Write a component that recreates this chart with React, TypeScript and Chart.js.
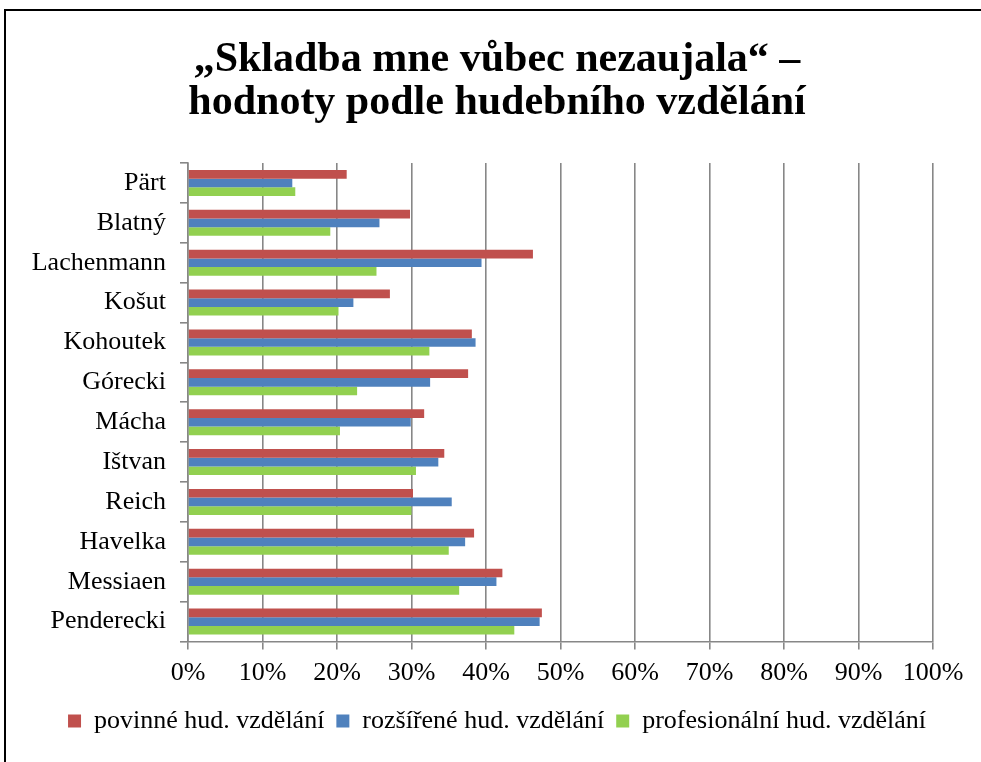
import React, { useEffect, useRef } from "react";
import { Chart, registerables } from "chart.js";

Chart.register(...registerables);

const categories = [
  "Pärt",
  "Blatný",
  "Lachenmann",
  "Košut",
  "Kohoutek",
  "Górecki",
  "Mácha",
  "Ištvan",
  "Reich",
  "Havelka",
  "Messiaen",
  "Penderecki",
];

const povinne = [21.3, 29.8, 46.3, 27.1, 38.1, 37.6, 31.7, 34.4, 30.2, 38.4, 42.2, 47.5];
const rozsirene = [14.0, 25.7, 39.4, 22.2, 38.6, 32.5, 29.9, 33.6, 35.4, 37.2, 41.4, 47.2];
const profesionalni = [14.4, 19.1, 25.3, 20.2, 32.4, 22.7, 20.4, 30.6, 30.0, 35.0, 36.4, 43.8];

const seriesNames = [
  "povinné hud. vzdělání",
  "rozšířené hud. vzdělání",
  "profesionální hud. vzdělání",
];

const titleLines = ["„Skladba mne vůbec nezaujala“ –", "hodnoty podle hudebního vzdělání"];

const xTicks = [0, 10, 20, 30, 40, 50, 60, 70, 80, 90, 100];

export default function App() {
  const canvasRef = useRef<HTMLCanvasElement | null>(null);

  useEffect(() => {
    if (!canvasRef.current) return;
    const serif = "'Liberation Serif', 'Times New Roman', serif";
    const grid = "#878787";
    const chart = new Chart(canvasRef.current, {
      type: "bar",
      data: {
        labels: categories,
        datasets: [
          { label: seriesNames[0], data: povinne, backgroundColor: "#C0504D", borderWidth: 0 },
          { label: seriesNames[1], data: rozsirene, backgroundColor: "#4F81BD", borderWidth: 0 },
          { label: seriesNames[2], data: profesionalni, backgroundColor: "#92D050", borderWidth: 0 },
        ],
      },
      options: {
        indexAxis: "y",
        animation: false,
        responsive: false,
        maintainAspectRatio: false,
        datasets: {
          bar: { categoryPercentage: 0.65, barPercentage: 1.0 },
        },
        layout: { padding: { left: 13, right: 0, top: 0, bottom: 18 } },
        plugins: {
          title: {
            display: true,
            text: titleLines,
            color: "#000",
            font: { family: serif, size: 42, weight: "bold", lineHeight: 1.024 },
            padding: { top: 39, bottom: 38 },
          },
          legend: {
            display: true,
            position: "bottom",
            labels: {
              color: "#000",
              font: { family: serif, size: 26 },
              boxWidth: 13,
              boxHeight: 13,
              padding: 12,
            },
          },
          tooltip: { enabled: false },
        },
        scales: {
          x: {
            min: 0,
            max: 100,
            afterBuildTicks: (scale: any) => {
              scale.ticks = xTicks.map((v) => ({ value: v }));
            },
            ticks: {
              color: "#000",
              font: { family: serif, size: 26, lineHeight: 0.75 },
              padding: 13.5,
              callback: (v: any) => v + "%",
              maxRotation: 0,
              autoSkip: false,
            },
            grid: {
              color: grid,
              lineWidth: 1.6,
              tickLength: 8,
              drawTicks: true,
            },
            border: { display: true, color: grid, width: 1.6 },
          },
          y: {
            afterFit: (scale: any) => {
              scale.width = 175;
            },
            ticks: {
              color: "#000",
              font: { family: serif, size: 26 },
              padding: 14,
            },
            grid: {
              display: true,
              drawOnChartArea: false,
              drawTicks: true,
              tickLength: 8,
              color: grid,
              lineWidth: 1.6,
              offset: true,
            },
            border: { display: true, color: grid, width: 1.6 },
          },
          yRight: {
            type: "linear",
            position: "right",
            display: true,
            afterFit: (scale: any) => {
              scale.width = 48;
            },
            ticks: { display: false },
            grid: { display: false, drawTicks: false },
            border: { display: false },
          },
        },
      },
    });
    return () => chart.destroy();
  }, []);

  return (
    <div style={{ position: "absolute", left: 0, top: 0, width: 981, height: 762, overflow: "hidden", background: "#fff" }}>
      <div
        style={{
          position: "absolute",
          left: 4,
          top: 9,
          width: 1100,
          height: 900,
          borderLeft: "2px solid #000",
          borderTop: "2px solid #000",
        }}
      />
      <canvas ref={canvasRef} width={981} height={762} style={{ position: "absolute", left: 0, top: 0, width: 981, height: 762 }} />
    </div>
  );
}
